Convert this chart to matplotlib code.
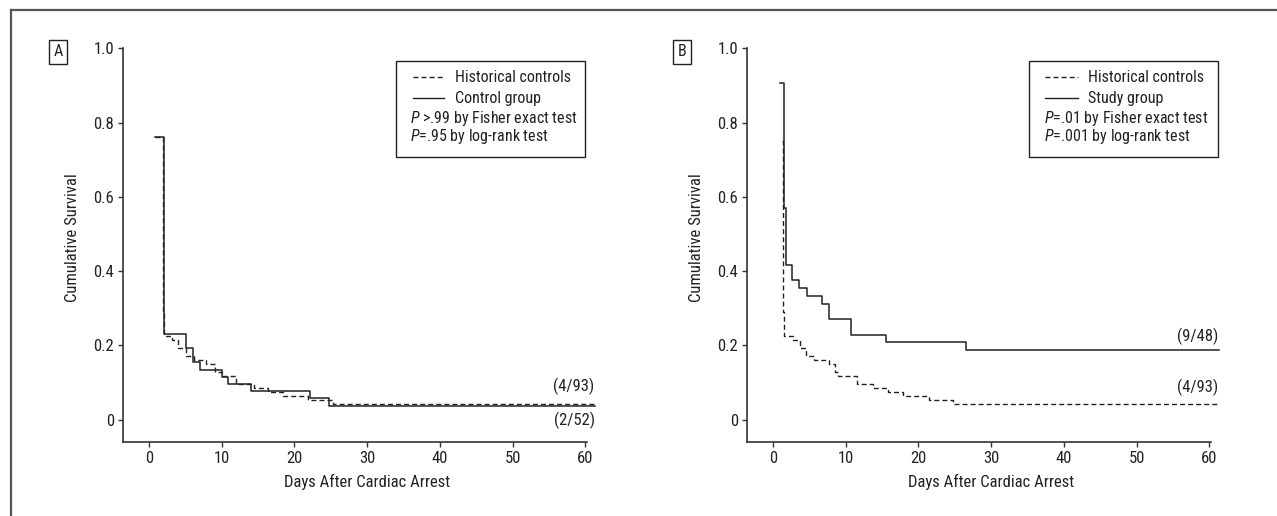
import matplotlib
matplotlib.use("Agg")
import matplotlib.pyplot as plt
from matplotlib import font_manager
from matplotlib.lines import Line2D
from matplotlib.patches import Rectangle

# pick a narrow sans if one is installed
fonts = font_manager.fontManager.ttflist
names = {f.name for f in fonts}
condensed = {f.name for f in fonts if 'ondensed' in f.fname or 'arrow' in f.fname}
FAMILY, STRETCH = 'Liberation Sans', 'normal'
for cand in ('Liberation Sans Narrow', 'Roboto Condensed', 'Open Sans Condensed'):
    if cand in names:
        FAMILY = cand
        break
else:
    if 'DejaVu Sans' in condensed:
        FAMILY, STRETCH = 'DejaVu Sans', 'condensed'

plt.rcParams['font.family'] = [FAMILY, 'DejaVu Sans']
plt.rcParams['font.stretch'] = STRETCH
plt.rcParams['mathtext.fontset'] = 'custom'
plt.rcParams['mathtext.rm'] = FAMILY
plt.rcParams['mathtext.it'] = FAMILY + ':italic'

W, H = 1277, 516
INK = '#222222'

# Panel A: historical controls (n=93) vs control group (n=52)
a_hist_days = [0.8, 1.95, 2.1, 3.1, 4.0, 5.1, 6.2, 7.9, 9.1, 10.1, 11.9, 14.4, 16.3, 18.5, 21.9, 25.3, 61.3]
a_hist_surv = [0.76, 0.29, 0.226, 0.215, 0.194, 0.172, 0.161, 0.150, 0.129, 0.118, 0.097, 0.086, 0.075, 0.065, 0.054, 0.043, 0.043]
a_ctrl_days = [0.8, 2.0, 5.1, 6.0, 7.0, 10.0, 10.9, 14.0, 22.1, 24.8, 61.3]
a_ctrl_surv = [0.76, 0.231, 0.192, 0.154, 0.135, 0.115, 0.096, 0.077, 0.058, 0.038, 0.038]

# Panel B: historical controls (n=93) vs study group (n=48)
b_hist_days = [1.2, 1.35, 1.55, 2.8, 3.7, 4.6, 5.6, 7.7, 8.5, 8.9, 11.5, 13.8, 15.85, 17.9, 21.4, 24.8, 61.3]
b_hist_surv = [0.75, 0.29, 0.226, 0.215, 0.194, 0.172, 0.161, 0.150, 0.129, 0.118, 0.097, 0.086, 0.075, 0.065, 0.054, 0.043, 0.043]
b_study_days = [0.9, 1.5, 1.75, 2.65, 3.57, 4.7, 6.7, 7.7, 10.67, 15.6, 26.6, 61.3]
b_study_surv = [0.906, 0.57, 0.417, 0.375, 0.354, 0.333, 0.3125, 0.271, 0.229, 0.208, 0.1875, 0.1875]

x_ticks = [0, 10, 20, 30, 40, 50, 60]
y_ticks = [0, 0.2, 0.4, 0.6, 0.8, 1.0]
y_ticklabels = ['0', '0.2', '0.4', '0.6', '0.8', '1.0']

FS = 11.5      # legend / annotations
FS_AX = 12     # ticks and axis titles


def px(x, y):
    return x / W, 1 - y / H


fig = plt.figure(figsize=(W / 100, H / 100), dpi=100)

# outer frame (top and left edges visible)
fig.add_artist(Line2D([px(11, 0)[0], 1.0], [px(0, 10)[1]] * 2, color='#555555', lw=1.6))
fig.add_artist(Line2D([px(11, 0)[0]] * 2, [px(0, 10)[1], 0.0], color='#555555', lw=1.6))


def make_axes(left_px, x0_px):
    scale = 7.27
    xmin = -(x0_px - left_px) / scale
    xmax = 61.5
    width = (xmax - xmin) * scale
    ax = fig.add_axes([left_px / W, (H - 442) / H, width / W, 1.08 * 371.5 / H])
    ax.set_xlim(xmin, xmax)
    ax.set_ylim(-0.06, 1.02)
    for s in ('top', 'right'):
        ax.spines[s].set_visible(False)
    for s in ('left', 'bottom'):
        ax.spines[s].set_color('#333333')
        ax.spines[s].set_linewidth(1.2)
    ax.spines['bottom'].set_bounds(xmin, 60.2)
    ax.spines['left'].set_bounds(-0.06, 1.0)
    ax.set_xticks(x_ticks)
    ax.set_yticks(y_ticks)
    ax.set_yticklabels(y_ticklabels)
    ax.tick_params(direction='out', length=3.5, width=1.0, color='#333333',
                   labelsize=FS_AX, labelcolor=INK, pad=3)
    ax.set_xlabel('Days After Cardiac Arrest', fontsize=FS_AX, color=INK)
    ax.set_ylabel('Cumulative Survival', fontsize=FS_AX, color=INK)
    ax.xaxis.set_label_coords((x0_px + 30 * scale - left_px) / width, -0.08)
    ax.yaxis.set_label_coords(-0.091, (442 - 238) / (1.08 * 371.5))
    return ax


axA = make_axes(123, 149)
axB = make_axes(747, 773)

dash = (0, (3.6, 2.2))
axA.step(a_hist_days, a_hist_surv, where='post', color=INK, lw=1.0, linestyle=dash)
axA.step(a_ctrl_days, a_ctrl_surv, where='post', color=INK, lw=1.1)
axB.step(b_hist_days, b_hist_surv, where='post', color=INK, lw=1.0, linestyle=dash)
axB.step(b_study_days, b_study_surv, where='post', color=INK, lw=1.1)

axA.text(61.3, 0.089, '(4/93)', ha='right', va='center', fontsize=FS_AX, color=INK)
axA.text(61.3, -0.003, '(2/52)', ha='right', va='center', fontsize=FS_AX, color=INK)
axB.text(61.3, 0.223, '(9/48)', ha='right', va='center', fontsize=FS_AX, color=INK)
axB.text(61.3, 0.086, '(4/93)', ha='right', va='center', fontsize=FS_AX, color=INK)

# panel letters
for letter, cx in (('A', 58), ('B', 682)):
    fig.text(*px(cx, 52), letter, ha='center', va='center', fontsize=FS, color=INK,
             bbox=dict(boxstyle='square,pad=0.3', fc='white', ec=INK, lw=1.0))

# legend boxes
legends = [
    (396, 585, 413, 444, 455, 410, 'Control group',
     ['$P$ >.99 by Fisher exact test', '$P$=.95 by log-rank test']),
    (1029, 1218, 1045, 1078, 1088, 1044, 'Study group',
     ['$P$=.01 by Fisher exact test', '$P$=.001 by log-rank test']),
]
rows = [77, 98, 118, 137]
for bx0, bx1, lx0, lx1, tx, px0, name, ptexts in legends:
    x0, y0 = px(bx0, 157)
    x1, y1 = px(bx1, 61)
    fig.add_artist(Rectangle((x0, y0), x1 - x0, y1 - y0, transform=fig.transFigure,
                             fill=False, ec=INK, lw=1.0))
    for ry, ls, label in ((rows[0], dash, 'Historical controls'), (rows[1], '-', name)):
        (ax0, ay), (ax1, _) = px(lx0, ry), px(lx1, ry)
        fig.add_artist(Line2D([ax0, ax1], [ay, ay], color=INK, lw=1.0, linestyle=ls))
        fig.text(*px(tx, ry), label, ha='left', va='center', fontsize=FS, color=INK)
    for ry, t in zip(rows[2:], ptexts):
        fig.text(*px(px0, ry), t, ha='left', va='center', fontsize=FS, color=INK)

fig.savefig('out.png', dpi=100)
